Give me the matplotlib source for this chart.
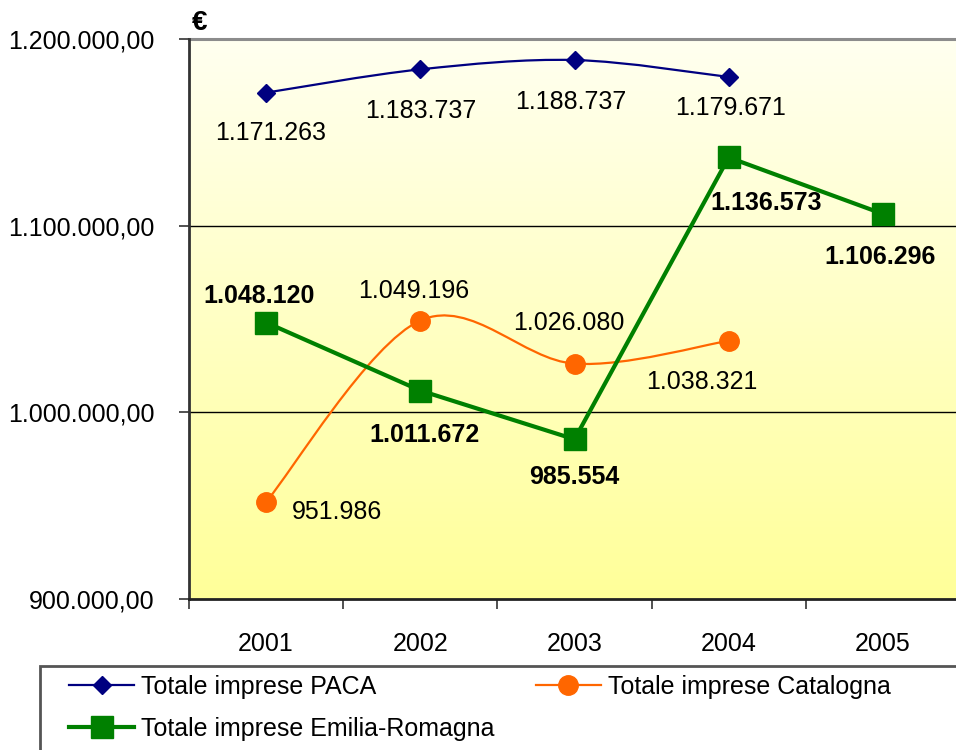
import matplotlib
matplotlib.use('Agg')
import matplotlib.pyplot as plt
import numpy as np
from matplotlib.path import Path
from matplotlib.patches import PathPatch, Rectangle
from matplotlib.lines import Line2D
from matplotlib.colors import LinearSegmentedColormap

years = ['2001', '2002', '2003', '2004', '2005']
paca = [1171263, 1183737, 1188737, 1179671]
catalogna = [951986, 1049196, 1026080, 1038321]
emilia = [1048120, 1011672, 985554, 1136573, 1106296]

paca_labels = ['1.171.263', '1.183.737', '1.188.737', '1.179.671']
catalogna_labels = ['951.986', '1.049.196', '1.026.080', '1.038.321']
emilia_labels = ['1.048.120', '1.011.672', '985.554', '1.136.573', '1.106.296']

y_ticks = [900000, 1000000, 1100000, 1200000]
y_tick_labels = ['900.000,00', '1.000.000,00', '1.100.000,00', '1.200.000,00']

legend_names = ['Totale imprese PACA', 'Totale imprese Catalogna', 'Totale imprese Emilia-Romagna']

plt.rcParams['font.family'] = ['Liberation Sans', 'DejaVu Sans']

fs = 18
navy = '#000080'
orange = '#FF6600'
green = '#008000'


def smooth_path(xs, ys):
    # Excel-like smoothed line: cubic bezier through the points
    pts = np.column_stack([xs, ys]).astype(float)
    n = len(pts)
    verts = [pts[0]]
    codes = [Path.MOVETO]
    for i in range(n - 1):
        p0 = pts[i - 1] if i > 0 else pts[i]
        p1 = pts[i]
        p2 = pts[i + 1]
        p3 = pts[i + 2] if i + 2 < n else pts[i + 1]
        c1 = p1 + (p2 - p0) / 6.0
        c2 = p2 - (p3 - p1) / 6.0
        verts += [c1, c2, p2]
        codes += [Path.CURVE4] * 3
    return Path(verts, codes)


fig = plt.figure(figsize=(9.56, 7.5), dpi=100)
ax = fig.add_axes([189 / 956, 151 / 750, 771 / 956, 560 / 750])

ax.set_xlim(-0.5, 4.5)
ax.set_ylim(900000, 1200000)

# Background gradient
cmap = LinearSegmentedColormap.from_list('bg', ['#FFFF99', '#FFFFF0'])
grad = np.linspace(0, 1, 256).reshape(-1, 1)
ax.imshow(grad, extent=[0, 1, 0, 1], transform=ax.transAxes, origin='lower',
          aspect='auto', cmap=cmap, zorder=0)

# Gridlines
ax.axhline(1000000, color='black', linewidth=1, zorder=1)
ax.axhline(1100000, color='black', linewidth=1, zorder=1)
ax.axhline(1200000, color='#8C8C8C', linewidth=2.2, zorder=1, clip_on=False)

x4 = np.arange(len(paca))
x5 = np.arange(len(emilia))

# PACA smoothed line
ax.add_patch(PathPatch(smooth_path(x4, paca), facecolor='none', edgecolor=navy,
                       linewidth=1.6, zorder=3))
ax.plot(x4, paca, linestyle='none', marker='D', markersize=9, color=navy, zorder=4)

# Catalogna smoothed line
ax.add_patch(PathPatch(smooth_path(x4, catalogna), facecolor='none', edgecolor=orange,
                       linewidth=1.6, zorder=3))
ax.plot(x4, catalogna, linestyle='none', marker='o', markersize=14, color=orange, zorder=4)

# Emilia-Romagna straight line
ax.plot(x5, emilia, color=green, linewidth=3, marker='s', markersize=16,
        markeredgecolor=green, zorder=5)

# Data labels (offsets in points)
paca_off = [(3, -29), (0, -30), (-3, -30), (1, -22)]
cat_off = [(51, -7), (-5, 21), (-4, 29), (-19, -30)]
emi_off = [(-5, 19), (3, -32), (0, -27), (27, -33), (-2, -31)]

for i, v in enumerate(paca):
    ax.annotate(paca_labels[i], (x4[i], v), xytext=paca_off[i], textcoords='offset points',
                ha='center', va='center', fontsize=fs, zorder=6)
for i, v in enumerate(catalogna):
    ax.annotate(catalogna_labels[i], (x4[i], v), xytext=cat_off[i], textcoords='offset points',
                ha='center', va='center', fontsize=fs, zorder=6)
for i, v in enumerate(emilia):
    ax.annotate(emilia_labels[i], (x5[i], v), xytext=emi_off[i], textcoords='offset points',
                ha='center', va='center', fontsize=fs, fontweight='bold', zorder=6)

# Axes styling
ax.set_yticks(y_ticks)
ax.set_yticklabels(y_tick_labels, fontsize=fs)
ax.set_xticks(np.arange(len(years)))
ax.set_xticklabels(years, fontsize=fs)
ax.set_xticks(np.arange(-0.5, 5.0, 1.0), minor=True)
ax.tick_params(axis='x', which='major', length=0, pad=24)
ax.tick_params(axis='x', which='minor', length=7, width=1.2, direction='out', color='#333333')
ax.tick_params(axis='y', length=7, width=1.2, direction='out', pad=18, color='#333333')

ax.spines['top'].set_visible(False)
ax.spines['right'].set_visible(False)
ax.spines['left'].set_color('#333333')
ax.spines['left'].set_linewidth(2)
ax.spines['bottom'].set_color('#222222')
ax.spines['bottom'].set_linewidth(2)
ax.spines['left'].set_zorder(2)

# Euro sign above the axis
fig.text(200 / 956, 1 - 23 / 750, '€', fontsize=20, fontweight='bold',
         ha='center', va='center')

# Legend box extending past the figure edges
fig.patches.append(Rectangle((40 / 956, -0.05), 0.98, 1 - 666 / 750 + 0.05,
                             transform=fig.transFigure, facecolor='white',
                             edgecolor='#555555', linewidth=2, zorder=0))

h_paca = Line2D([], [], color=navy, linewidth=1.6, marker='D', markersize=9)
h_cat = Line2D([], [], color=orange, linewidth=1.6, marker='o', markersize=14)
h_emi = Line2D([], [], color=green, linewidth=3, marker='s', markersize=16)
fig.legend([h_paca, h_emi, h_cat], [legend_names[0], legend_names[2], legend_names[1]],
           loc='upper left', bbox_to_anchor=(69 / 956, 1 - 675 / 750), ncol=2,
           frameon=False, fontsize=fs, handlelength=2.6, handletextpad=0.28,
           columnspacing=1.64, labelspacing=0.72, borderpad=0, borderaxespad=0)

fig.savefig('out.png', dpi=100)
